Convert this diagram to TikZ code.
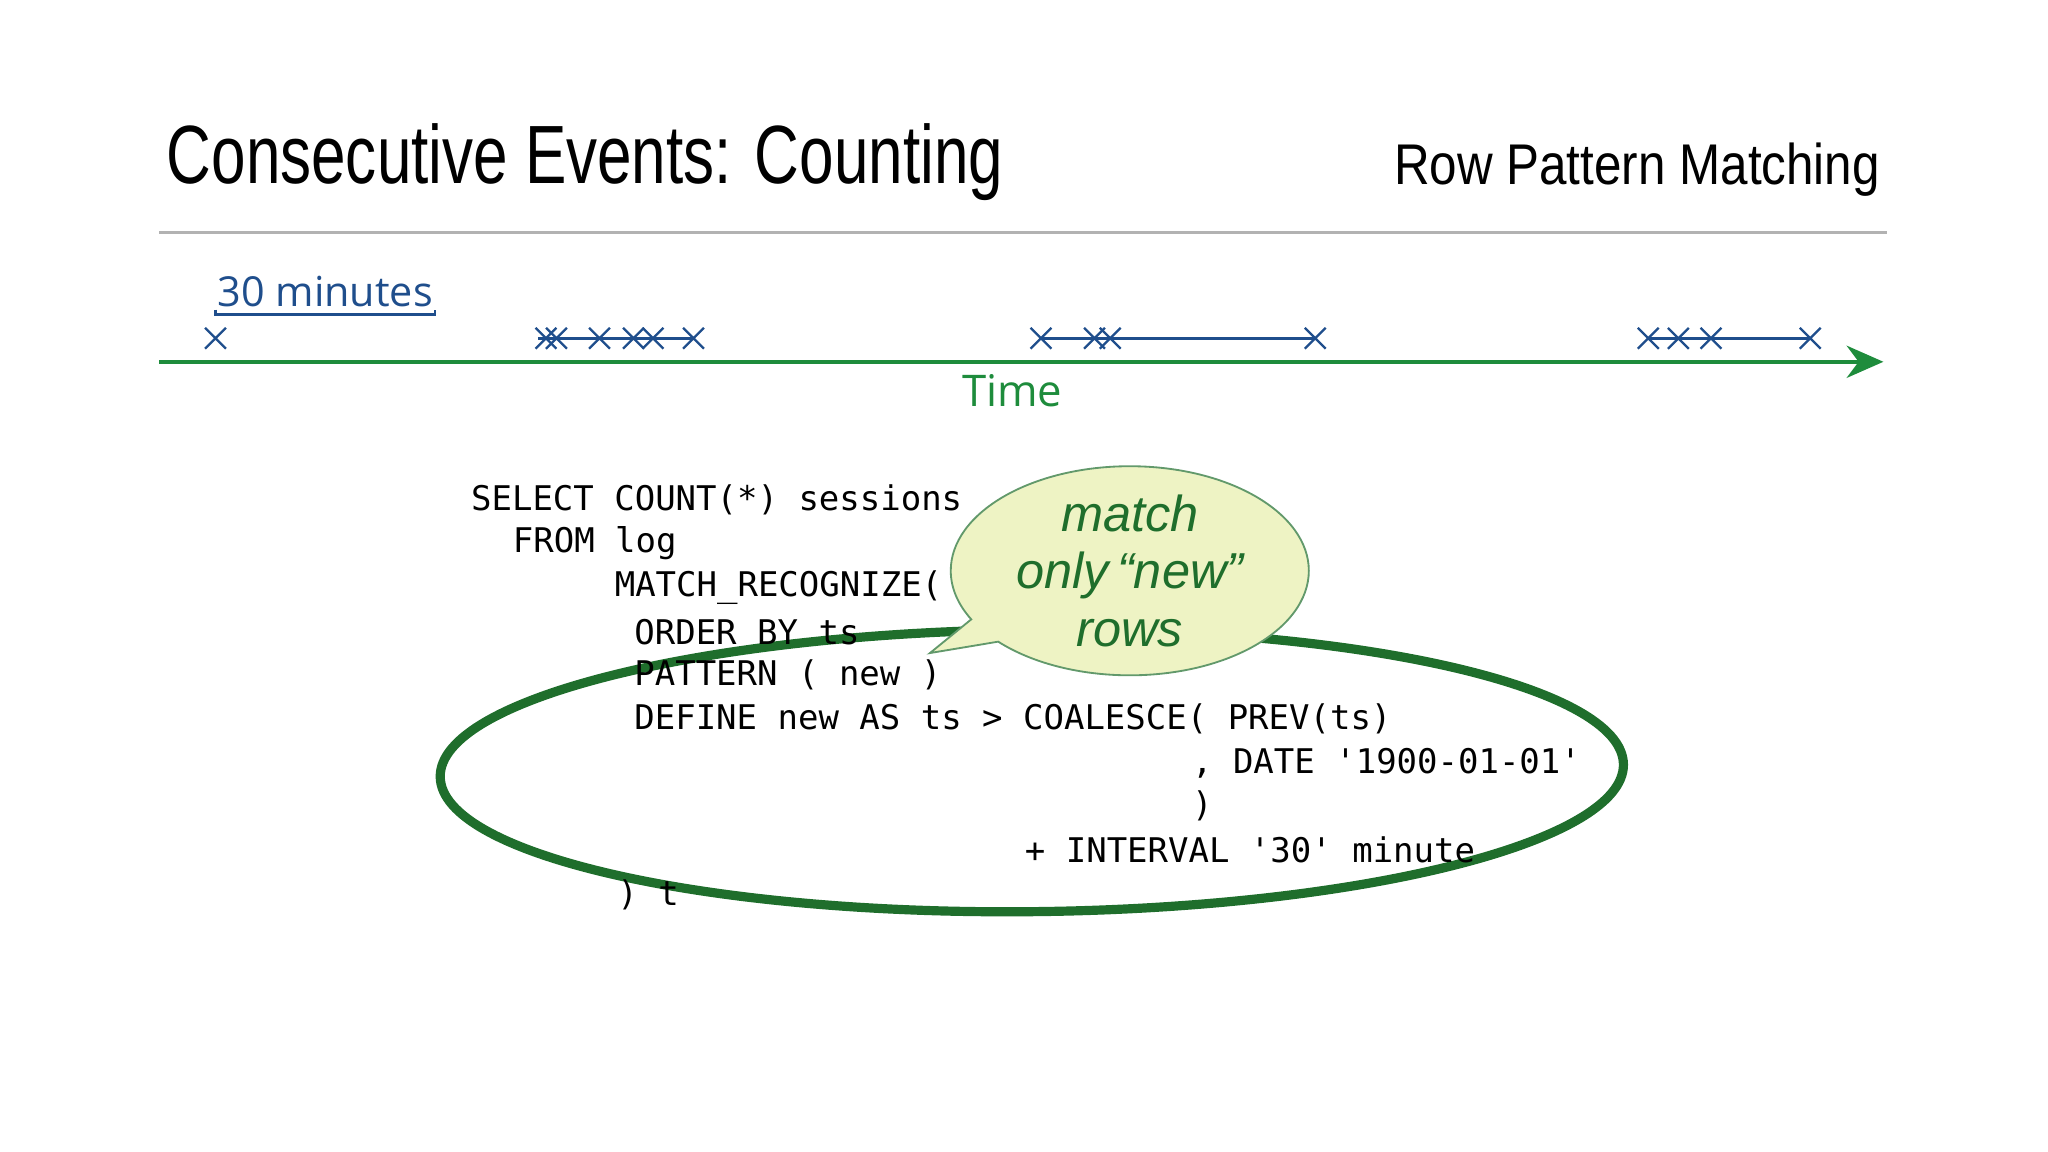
\documentclass[tikz,border=0pt]{standalone}
\usepackage{fontspec}
\setmainfont{Liberation Sans}
\newfontfamily\codefont{DejaVu Sans Mono}
\newfontfamily\sansb{Open Sans}
\usetikzlibrary{shapes.callouts,arrows.meta}
\definecolor{tgreen}{HTML}{1E8C3C}
\definecolor{dgreen}{HTML}{1F6E2C}
\definecolor{tblue}{HTML}{1F4E8C}
\definecolor{bub}{HTML}{EEF3C4}
\begin{document}
\begin{tikzpicture}[x=0.01cm,y=-0.01cm,
  code/.style={anchor=west,inner sep=0pt,font=\codefont\fontsize{7.4pt}{9pt}\selectfont},
  xmark/.style={tblue,line width=0.5pt}]
\useasboundingbox (0,0) rectangle (1568,882);
\node[anchor=west,inner sep=0] (title) at (127,124) {\scalebox{0.75}[1]{\fontsize{18pt}{20pt}\selectfont Consecutive Events: Counting}};
\node[anchor=east,inner sep=0] (sub) at (1440,130) {\scalebox{0.86}[1]{\fontsize{12.5pt}{14pt}\selectfont Row Pattern Matching}};
\draw[gray!60,line width=0.6pt] (122,178) coordinate (s1) -- (1445,178) coordinate (s2);
% timeline
\coordinate (t0) at (122,277); \coordinate (t1) at (1442,277);
\draw[tgreen,line width=0.9pt,-{Stealth[length=8pt,width=7pt]}] (t0) -- (t1);
\node[tgreen,font=\sansb\fontsize{9.5pt}{12pt}\selectfont] (time) at (775,299) {Time};
\node[tblue,font=\sansb\fontsize{9pt}{12pt}\selectfont] (thirty) at (249,223) {30 minutes};
\draw[tblue,line width=0.6pt] (165,237) coordinate (b0) -- (165,241) -- (333,241) -- (333,237) coordinate (b1);
\foreach \a/\b in {412/531,797/1007,1262/1386}{\draw[tblue,line width=0.6pt] (\a,259) -- (\b,259);}
\foreach \x in {165,418,426,459,485,500,531,797,838,850,1007,1262,1285,1310,1386}{
  \draw[xmark] (\x-8,251) -- (\x+8,267) (\x-8,267) -- (\x+8,251);}
% ellipse
\draw[dgreen,line width=2pt,rotate around={0.6:(790,590)}] (790,590) ellipse [x radius=453, y radius=108];
% code
\node[code] (c1) at (360,383) {SELECT COUNT(*) sessions};
\node[code] (c2) at (392,416) {FROM log};
\node[code] (c3) at (470,450) {MATCH\_RECOGNIZE(};
\node[code] (c4) at (485,484) {ORDER BY ts};
\node[code] (c5) at (485,517) {PATTERN ( new )};
\node[code] (c6) at (485,550) {DEFINE new AS ts > COALESCE( PREV(ts)};
\node[code] (c7) at (912,584) {, DATE '1900-01-01'};
\node[code] (c8) at (912,617) {)};
\node[code] (c9) at (784,651) {+ INTERVAL '30' minute};
\node[code] (c10) at (472,685) {) t};
% bubble
\node[ellipse callout,draw=dgreen!70,line width=0.4pt,fill=bub,
  minimum width=2.74cm,minimum height=1.6cm,inner sep=0pt,
  callout absolute pointer={(712,500)}] (bubble) at (865,437) {};
\node[dgreen,align=center,font=\itshape\fontsize{11pt}{12.5pt}\selectfont] (btext) at (bubble.center) {match\\only\,``new''\\rows};
\end{tikzpicture}
\end{document}
